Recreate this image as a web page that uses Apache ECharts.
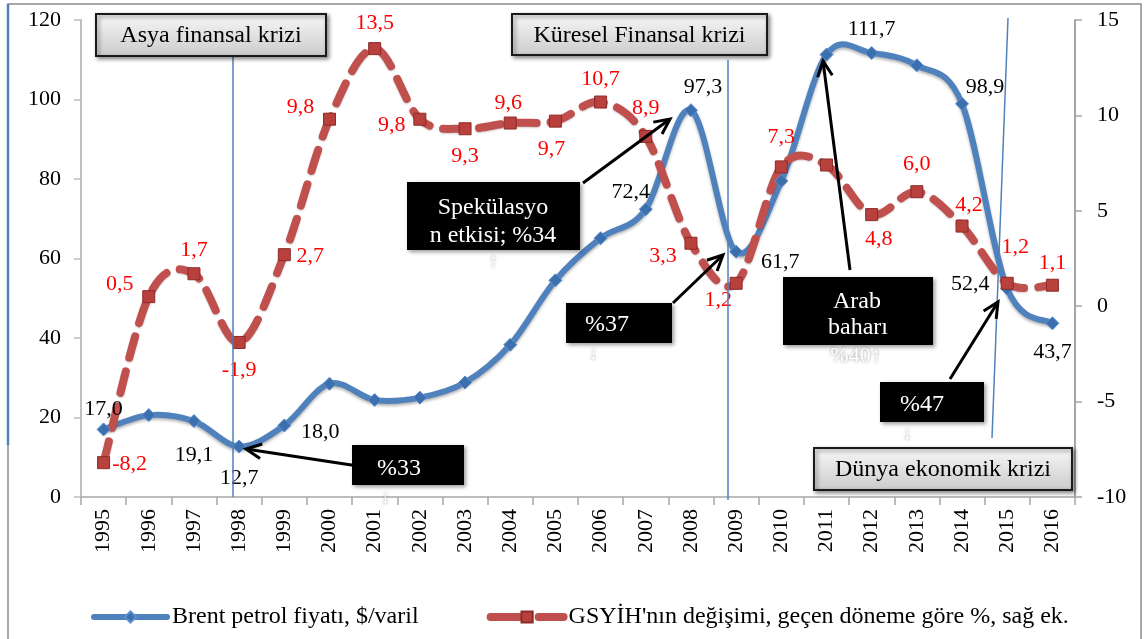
<!DOCTYPE html>
<html>
<head>
<meta charset="utf-8">
<script src="https://cdn.jsdelivr.net/npm/echarts@6/dist/echarts.min.js"></script>
<style>
  html, body { margin: 0; padding: 0; background: #fff; }
  #chart { width: 1146px; height: 639px; }
</style>
</head>
<body>
<div id="chart"></div>
<script>
// ---- data ----
const years = ['1995','1996','1997','1998','1999','2000','2001','2002','2003','2004','2005',
               '2006','2007','2008','2009','2010','2011','2012','2013','2014','2015','2016'];
// Brent oil price, $/barrel (left axis)
const brent = [17.0, 20.6, 19.1, 12.7, 18.0, 28.5, 24.4, 25.0, 28.8, 38.3, 54.5,
               65.1, 72.4, 97.3, 61.7, 79.5, 111.3, 111.7, 108.6, 98.9, 52.4, 43.7];
// GDP change vs previous period, % (right axis)
const gdp = [-8.2, 0.5, 1.7, -1.9, 2.7, 9.8, 13.5, 9.8, 9.3, 9.6, 9.7,
             10.7, 8.9, 3.3, 1.2, 7.3, 7.4, 4.8, 6.0, 4.2, 1.2, 1.1];
const leftAxisRange = { min: 0, max: 120, interval: 20 };
const rightAxisRange = { min: -10, max: 15, interval: 5 };
const brentName = 'Brent petrol fiyatı, $/varil';
const gdpName = "GSYİH'nın değişimi, geçen döneme göre %, sağ ek.";

// ---- label placement (offset from the marker centre) ----
const brentLabelOffset = {
  '1995': [0, -20], '1997': [0, 34], '1998': [0, 32], '1999': [36, 7],
  '2007': [-15, -17], '2008': [12, -23], '2009': [44, 10], '2012': [0, -24],
  '2014': [23, -17], '2015': [-37, -4], '2016': [0, 29]
};
const gdpLabelOffset = {
  '1995': [26, 2], '1996': [-29, -12], '1997': [0, -24], '1998': [0, 28],
  '1999': [26, 2], '2000': [-29, -12], '2001': [0, -25], '2002': [-28, 6],
  '2003': [0, 27], '2004': [-2, -20], '2005': [-4, 28], '2006': [0, -23],
  '2007': [0, -28], '2008': [-28, 13], '2009': [-18, 17], '2010': [0, -30],
  '2012': [7, 25], '2013': [0, -28], '2014': [7, -21], '2015': [8, -36],
  '2016': [0, -22]
};

const FONT = '"Liberation Serif", "Times New Roman", serif';
const BLUE = '#4f81bd';
const RED = '#c0504d';
const fmt = v => v.toFixed(1).replace('.', ',');

function withLabels(values, offsets, color) {
  return values.map((v, i) => {
    const off = offsets[years[i]];
    return {
      value: v,
      label: off ? {
        show: true, position: 'inside', offset: off,
        formatter: () => fmt(v),
        color: color, fontFamily: FONT, fontSize: 22
      } : { show: false }
    };
  });
}

// Catmull-Rom style cubic path through the data points (pixel coords from the axes)
function curvePath(values, api) {
  const p = values.map((v, i) => api.coord([i, v]));
  const n = p.length;
  let d = 'M' + p[0][0] + ',' + p[0][1];
  for (let i = 0; i < n - 1; i++) {
    const a = p[Math.max(i - 1, 0)], b = p[i], c = p[i + 1], e = p[Math.min(i + 2, n - 1)];
    const c1 = [b[0] + (c[0] - a[0]) / 6, b[1] + (c[1] - a[1]) / 6];
    const c2 = [c[0] - (e[0] - b[0]) / 6, c[1] - (e[1] - b[1]) / 6];
    d += ' C' + c1[0] + ',' + c1[1] + ' ' + c2[0] + ',' + c2[1] + ' ' + c[0] + ',' + c[1];
  }
  return d;
}
function curveSeries(name, values, yAxisIndex, z, style) {
  return {
    name: name, type: 'custom', yAxisIndex: yAxisIndex, z: z, silent: true,
    data: values.map((v, i) => [i, v]),
    renderItem: (params, api) => {
      if (params.dataIndex !== 0) return null;
      return { type: 'path', shape: { pathData: curvePath(values, api) },
               style: Object.assign({ fill: 'none' }, style) };
    }
  };
}

// ---- annotation helpers ----
function arrow(x1, y1, x2, y2) {
  const a = Math.atan2(y2 - y1, x2 - x1), L = 17, w = 0.45;
  const h1 = [x2 - L * Math.cos(a - w), y2 - L * Math.sin(a - w)];
  const h2 = [x2 - L * Math.cos(a + w), y2 - L * Math.sin(a + w)];
  return [
    { type: 'line', z: 120, shape: { x1, y1, x2, y2 }, style: { stroke: '#000', lineWidth: 3 } },
    { type: 'polyline', z: 120, shape: { points: [h1, [x2, y2], h2] },
      style: { stroke: '#000', lineWidth: 3, fill: null } }
  ];
}
function text(str, x, y, size, color, extraStyle) {
  return {
    type: 'text', z: 130, x: x, y: y,
    style: Object.assign({ text: str, fill: color, font: size + 'px ' + FONT,
             align: 'center', verticalAlign: 'middle',
             textAlign: 'center', textVerticalAlign: 'middle' }, extraStyle || {})
  };
}
function grayBox(x, y, w, h, label) {
  return [
    { type: 'rect', z: 110, shape: { x, y, width: w, height: h },
      style: {
        fill: { type: 'linear', x: 0, y: 0, x2: 0, y2: 1,
                colorStops: [{ offset: 0, color: '#f8f8f8' }, { offset: 1, color: '#cbcbcb' }] },
        stroke: '#1a1a1a', lineWidth: 2,
        shadowBlur: 4, shadowOffsetX: 2, shadowOffsetY: 2, shadowColor: 'rgba(0,0,0,0.45)'
      } },
    text(label, x + w / 2, y + h / 2 + 1, 24, '#000')
  ];
}
function blackBox(x, y, w, h) {
  return { type: 'rect', z: 110, shape: { x, y, width: w, height: h },
           style: { fill: '#000', shadowBlur: 4, shadowOffsetX: 2, shadowOffsetY: 2,
                    shadowColor: 'rgba(0,0,0,0.4)' } };
}
function ghost(str, x, y, size) {
  return text(str, x, y, size, '#ffffff',
              { textShadowColor: 'rgba(0,0,0,0.45)', textShadowBlur: 3 });
}

const graphics = [].concat(
  // outer frame
  [{ type: 'rect', z: 1, shape: { x: 8, y: 4, width: 1133, height: 640 },
     style: { fill: null, stroke: '#8c8c8c', lineWidth: 1.5 } },
   { type: 'line', z: 2, shape: { x1: 8, y1: 4, x2: 8, y2: 445 },
     style: { stroke: BLUE, lineWidth: 2.5 } }],
  // crisis marker lines
  [{ type: 'line', z: 50, shape: { x1: 233, y1: 56, x2: 233, y2: 497 },
     style: { stroke: BLUE, lineWidth: 1.5 } },
   { type: 'line', z: 50, shape: { x1: 728, y1: 60, x2: 728, y2: 500 },
     style: { stroke: BLUE, lineWidth: 1.5 } },
   { type: 'line', z: 50, shape: { x1: 1008, y1: 18, x2: 992, y2: 438 },
     style: { stroke: BLUE, lineWidth: 1.5 } }],
  grayBox(96, 14, 230, 42, 'Asya finansal krizi'),
  grayBox(512, 14, 255, 41, 'Küresel Finansal krizi'),
  grayBox(814, 448, 258, 42, 'Dünya ekonomik krizi'),
  [blackBox(407, 182, 173, 68),
   text('Spekülasyo', 493, 208, 24, '#fff'),
   text('n etkisi; %34', 493, 236, 24, '#fff'),
   blackBox(566, 303, 106, 40),
   text('%37', 607, 325, 24, '#fff'),
   blackBox(352, 445, 112, 40),
   text('%33', 399, 469, 24, '#fff'),
   blackBox(783, 277, 150, 68),
   text('Arab', 857, 302, 24, '#fff'),
   text('baharı', 858, 328, 24, '#fff'),
   blackBox(880, 382, 104, 40),
   text('%47', 922, 405, 24, '#fff'),
   ghost('%40↑', 856, 356, 22),
   ghost('↑', 493, 262, 20),
   ghost('↓', 593, 354, 20),
   ghost('↓', 385, 498, 20),
   ghost('↓', 907, 434, 20)],
  arrow(358, 466, 246, 449),
  arrow(583, 183, 670, 119),
  arrow(673, 303, 723, 255),
  arrow(850, 270, 823, 61),
  arrow(950, 379, 998, 302)
);

const chart = echarts.init(document.getElementById('chart'), null, { renderer: 'canvas' });
chart.setOption({
  animation: false,
  backgroundColor: '#fff',
  textStyle: { fontFamily: FONT },
  grid: { left: 81, right: 71, top: 20, bottom: 142 },
  legend: {
    left: 86, top: 600, itemWidth: 73, itemHeight: 14, itemGap: 68,
    textStyle: { fontFamily: FONT, fontSize: 24, color: '#000' },
    data: [
      { name: brentName,
        lineStyle: { color: BLUE, width: 6, opacity: 1, cap: 'round', type: 'solid' } },
      { name: gdpName,
        lineStyle: { color: RED, width: 8, opacity: 1, cap: 'round', type: 'dashed',
                     dashOffset: 0 } }
    ]
  },
  xAxis: {
    type: 'category', data: years, boundaryGap: true,
    axisLine: { lineStyle: { color: '#a6a6a6', width: 1.5 } },
    axisTick: { show: true, length: 8, lineStyle: { color: '#a6a6a6', width: 1.5 } },
    axisLabel: { rotate: 90, margin: 12, fontFamily: FONT, fontSize: 22, color: '#000', interval: 0 }
  },
  yAxis: [
    Object.assign({
      type: 'value', position: 'left',
      axisLine: { show: true, lineStyle: { color: '#bfbfbf', width: 2 } },
      axisTick: { show: true, length: 7, lineStyle: { color: '#bfbfbf', width: 1.5 } },
      splitLine: { show: false },
      axisLabel: { margin: 20, fontFamily: FONT, fontSize: 22, color: '#000' }
    }, leftAxisRange),
    Object.assign({
      type: 'value', position: 'right',
      axisLine: { show: true, lineStyle: { color: '#a6a6a6', width: 2 } },
      axisTick: { show: true, length: 7, lineStyle: { color: '#a6a6a6', width: 1.5 } },
      splitLine: { show: false },
      axisLabel: { margin: 22, fontFamily: FONT, fontSize: 22, color: '#000' }
    }, rightAxisRange)
  ],
  series: [
    // markers + value labels
    {
      name: brentName, type: 'line', yAxisIndex: 0,
      data: withLabels(brent, brentLabelOffset, '#000'),
      symbol: 'diamond', symbolSize: 13,
      lineStyle: { color: BLUE, width: 6, opacity: 0 },
      itemStyle: { color: '#3c6fae', borderColor: '#5b8fd0', borderWidth: 1 },
      z: 6
    },
    {
      name: gdpName, type: 'line', yAxisIndex: 1,
      data: withLabels(gdp, gdpLabelOffset, '#ff0000'),
      symbol: 'rect', symbolSize: 12,
      lineStyle: { color: RED, width: 8, opacity: 0 },
      itemStyle: { color: '#b8403d', borderColor: '#8e2a28', borderWidth: 1 },
      z: 7
    },
    // smoothed curves
    curveSeries(brentName, brent, 0, 2, {
      stroke: BLUE, lineWidth: 6, lineCap: 'round', lineJoin: 'round',
      shadowBlur: 3, shadowOffsetY: 2, shadowColor: 'rgba(0,0,0,0.3)'
    }),
    curveSeries(gdpName, gdp, 1, 4, {
      stroke: RED, lineWidth: 8, lineCap: 'round', lineDash: [22, 14],
      shadowBlur: 2, shadowOffsetY: 1, shadowColor: 'rgba(0,0,0,0.2)'
    })
  ],
  graphic: graphics
});
</script>
</body>
</html>
